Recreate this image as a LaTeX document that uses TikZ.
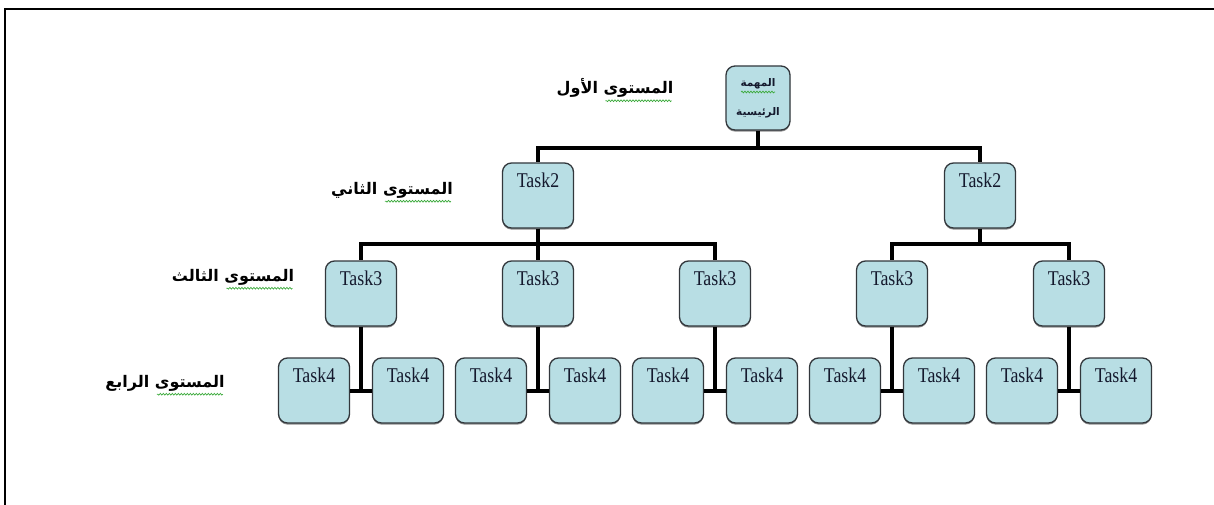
\documentclass[tikz,border=0pt]{standalone}
\usepackage{fontspec}
\usetikzlibrary{shadows,decorations.pathmorphing}
\TeXXeTstate=1
\newfontfamily\arabicfont[Script=Arabic]{DejaVu Sans}
\newfontfamily\taskfont[FakeStretch=0.85]{Liberation Serif}
\definecolor{boxfill}{RGB}{184,222,228}
\definecolor{boxline}{RGB}{50,55,60}
\definecolor{taskink}{RGB}{20,25,45}
\definecolor{squig}{RGB}{60,170,60}
\tikzset{
  basebox/.style={draw=boxline, line width=1.3pt, fill=boxfill, rounded corners=9pt,
    inner xsep=0pt, inner ysep=0pt, text=taskink,
    drop shadow={shadow xshift=0pt, shadow yshift=-1.6pt, fill=black!55, opacity=0.8}},
  taskbox/.style={basebox, minimum width=71pt, text height=24pt, text depth=41pt,
    font=\taskfont\fontsize{21}{24}\selectfont},
  topbox/.style={basebox, minimum width=64pt, minimum height=64pt, align=center,
    font=\arabicfont\bfseries\fontsize{10.5}{29}\selectfont},
  wire/.style={line width=4pt, black},
  levellbl/.style={font=\arabicfont\bfseries\fontsize{16}{18}\selectfont, inner sep=0pt},
  squiggle/.style={squig, line width=0.7pt, decorate, decoration={snake, amplitude=0.9pt, segment length=3pt}},
  frameline/.style={line width=2.5pt, black}
}
\begin{document}
\begin{tikzpicture}[x=1pt,y=-1pt]
\useasboundingbox (0,0) rectangle (1214,505);
% frame
\coordinate (fTL) at (5,9);
\coordinate (fTR) at (1214,9);
\coordinate (fBL) at (5,505);
\draw[frameline] (fTR) -- (fTL) -- (fBL);

% level labels
\node[levellbl] (L1) at (615,88) {\beginR المستوى الأول\endR};
\node[levellbl] (L2) at (392,190) {\beginR المستوى الثاني\endR};
\node[levellbl] (L3) at (233,277) {\beginR المستوى الثالث\endR};
\node[levellbl] (L4) at (165,383) {\beginR المستوى الرابع\endR};

% top
\node[topbox] (top) at (758,98) {\beginR المهمة\endR\\\beginR الرئيسية\endR};

% level 2
\node[taskbox] (a) at (538,195.5) {Task2};
\node[taskbox] (b) at (980,195.5) {Task2};

% level 3 and 4
\foreach \n/\x in {a1/361,a2/538,a3/715,b1/892,b2/1069}{
  \node[taskbox] (\n) at (\x,293.5) {Task3};
  \node[taskbox] (\n l) at (\x-47,390.5) {Task4};
  \node[taskbox] (\n r) at (\x+47,390.5) {Task4};
}

% connectors
\draw[wire] (top.south) -- ++(0,17) -| (a.north);
\draw[wire] (top.south) ++(0,17) -| (b.north);
\draw[wire] (a.south) -- ++(0,15) -| (a1.north);
\draw[wire] (a.south) ++(0,15) -| (a3.north);
\draw[wire] (a.south) -- (a2.north);
\draw[wire] (b.south) -- ++(0,15) -| (b1.north);
\draw[wire] (b.south) ++(0,15) -| (b2.north);
\foreach \n in {a1,a2,a3,b1,b2}{
  \draw[wire] (\n.south) -- (\n.south |- \n l.east);
  \draw[wire] (\n l.east) -- (\n r.west);
}

% spell-check squiggles
\draw[squiggle] ([xshift=-2pt,yshift=-3pt]L1.south east) -- ++(-66,0);
\draw[squiggle] ([xshift=-2pt,yshift=-3pt]L2.south east) -- ++(-66,0);
\draw[squiggle] ([xshift=-2pt,yshift=-3pt]L3.south east) -- ++(-66,0);
\draw[squiggle] ([xshift=-2pt,yshift=-3pt]L4.south east) -- ++(-66,0);
\draw[squiggle] ([yshift=-8pt]top.center) ++(-17,-14) -- ++(34,0);
\end{tikzpicture}
\end{document}
